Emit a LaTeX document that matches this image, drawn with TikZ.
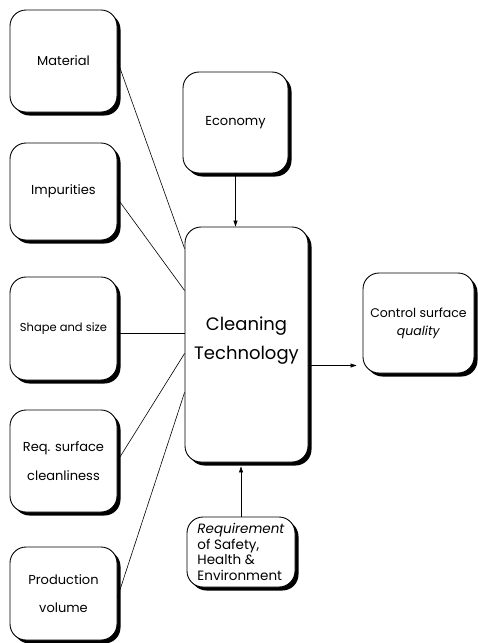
\documentclass[tikz,border=0pt]{standalone}
\usepackage{fontspec}
\setmainfont{Poppins}
\usetikzlibrary{shadows,arrows.meta,calc}

\tikzset{
  factor/.style={draw, line width=0.9pt, rounded corners=16pt, fill=white,
    drop shadow={shadow xshift=3.5pt, shadow yshift=-3.5pt, fill=black, opacity=1},
    inner sep=0pt, align=center, font=\fontsize{13}{16}\selectfont},
  link/.style={line width=0.6pt},
  feed/.style={line width=0.6pt, -{Triangle[length=6pt,width=4pt]}}
}

\begin{document}
\begin{tikzpicture}[x=1pt,y=-1pt]
        \useasboundingbox (0,0) rectangle (478,643);

        \begin{scope}[every node/.style={factor}]
          \node[minimum width=107, minimum height=102] (mat)  at (63.5,61)  {Material};
          \node[minimum width=107, minimum height=97]  (imp)  at (63.5,191.5) {Impurities};
          \node[minimum width=107, minimum height=103, font=\fontsize{11.5}{14}\selectfont] (shp)  at (63.5,328.5) {Shape and size};
          \node[minimum width=107, minimum height=102] (req)  at (63.5,461) {Req. surface\\[13pt]cleanliness};
          \node[minimum width=107, minimum height=93]  (prod) at (63.5,593.5) {Production\\[12pt]volume};
          \node[minimum width=105, minimum height=101] (eco)  at (235.5,122.5) {Economy};
          \node[minimum width=123, minimum height=235, font=\fontsize{18}{21}\selectfont] (clean) at (246.5,344.5) {Cleaning\\[8pt]Technology\\[-8pt]};
          \node[minimum width=111, minimum height=100, font=\fontsize{12.5}{15}\selectfont] (ctrl) at (418.5,323) {Control surface\\[3pt]\textit{quality}};
          \node[minimum width=108, minimum height=70, align=left,
                font=\fontsize{13.5}{15.5}\selectfont] (safe) at (241,552) {\textit{Requirement}\\of Safety,\\Health \&\\Environment};
        \end{scope}

        % entry points on the left side of the main box
        \coordinate (in1) at ([yshift=96]clean.west);
        \coordinate (in2) at ([yshift=54]clean.west);
        \coordinate (in3) at ([yshift=11]clean.west);
        \coordinate (in4) at ([yshift=-9]clean.west);
        \coordinate (in5) at ([yshift=-48]clean.west);

        \begin{scope}[every edge/.style={draw, link}]
          \path (mat.east)  edge (in1);
          \path ([yshift=-7]imp.east) edge (in2);
          \path ([yshift=-5]shp.east) edge (in3);
          \path (req.east)  edge (in4);
          \path ([yshift=-4]prod.east) edge (in5);
        \end{scope}

        \draw[feed] (eco.south) -- (eco.south |- clean.north);
        \draw[feed] ([yshift=-21]clean.east) -- ([xshift=-6,yshift=-21]clean.east -| ctrl.west);
        \draw[feed] (safe.north) -- ([yshift=-4]safe.north |- clean.south);

      \end{tikzpicture}
\end{document}
